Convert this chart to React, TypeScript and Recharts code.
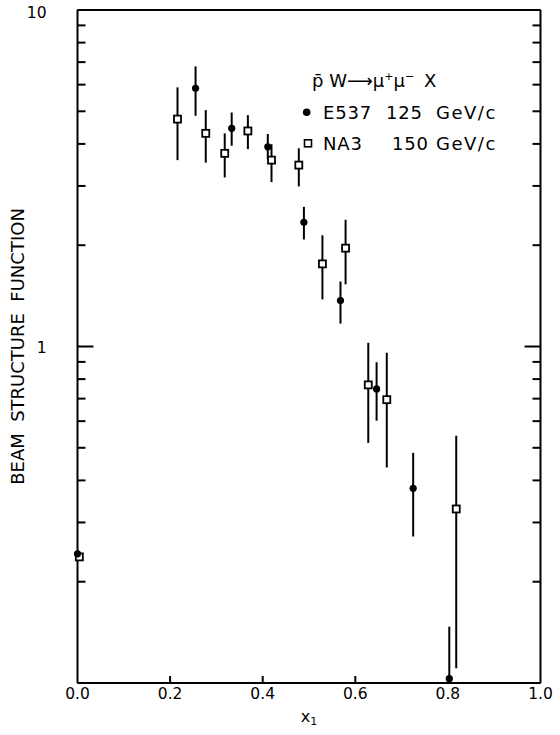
import React from 'react';
import { ScatterChart, Scatter, XAxis, YAxis, ErrorBar, Customized, Label } from 'recharts';

// E537 125 GeV/c (filled circles)
const e537X = [0.0, 0.255, 0.333, 0.411, 0.489, 0.568, 0.646, 0.725, 0.803];
const e537Y = [0.242, 5.85, 4.45, 3.92, 2.34, 1.37, 0.748, 0.379, 0.103];
const e537Lo = [0.237, 4.85, 3.95, 3.6, 2.08, 1.17, 0.602, 0.2725, 0.1];
const e537Hi = [0.247, 6.8, 4.96, 4.28, 2.6, 1.56, 0.898, 0.483, 0.147];

// NA3 150 GeV/c (open squares)
const na3X = [0.004, 0.216, 0.277, 0.318, 0.368, 0.419, 0.478, 0.529, 0.579, 0.628, 0.668, 0.818];
const na3Y = [0.237, 4.74, 4.3, 3.75, 4.37, 3.58, 3.46, 1.76, 1.96, 0.769, 0.695, 0.329];
const na3Lo = [0.233, 3.58, 3.52, 3.18, 3.86, 3.08, 2.99, 1.38, 1.53, 0.517, 0.437, 0.1106];
const na3Hi = [0.241, 5.89, 5.04, 4.3, 4.87, 3.99, 3.88, 2.14, 2.38, 1.026, 0.958, 0.543];

const xTicks = [0, 0.2, 0.4, 0.6, 0.8, 1.0];
const xTickLabels = ['0.0', '0.2', '0.4', '0.6', '0.8', '1.0'];
const yTicks = [0.1, 0.2, 0.3, 0.4, 0.5, 0.6, 0.7, 0.8, 0.9, 1, 2, 3, 4, 5, 6, 7, 8, 9, 10];
const yMajor = [1, 10];

const e537Data = e537X.map((x, i) => ({ x, y: e537Y[i], err: [e537Y[i] - e537Lo[i], e537Hi[i] - e537Y[i]] }));
const na3Data = na3X.map((x, i) => ({ x, y: na3Y[i], err: [na3Y[i] - na3Lo[i], na3Hi[i] - na3Y[i]] }));

const FONT = 'DejaVu Sans, sans-serif';

const FilledDot = (p: any) => <circle cx={p.cx} cy={p.cy} r={3.6} fill="#000" />;
const OpenSquare = (p: any) => (
  <rect x={p.cx - 3.5} y={p.cy - 3.5} width={7} height={7} fill="#fff" stroke="#000" strokeWidth={1.8} />
);

const isMajor = (v: number) => yMajor.some((m) => Math.abs(m - v) < 1e-9);

const LeftTick = (p: any) => {
  const v = p.payload.value;
  const len = isMajor(v) ? 16 : 8;
  return (
    <g>
      <line x1={p.x} y1={p.y} x2={p.x + len} y2={p.y} stroke="#000" strokeWidth={2} />
      {isMajor(v) ? (
        <text x={p.x - 31} y={p.y + (v > 5 ? 8 : 6)} textAnchor="end" fontSize={15.5} fontFamily={FONT} fill="#000">
          {String(v)}
        </text>
      ) : null}
    </g>
  );
};

const RightTick = (p: any) => {
  const v = p.payload.value;
  const len = isMajor(v) ? 16 : 8;
  return <line x1={p.x} y1={p.y} x2={p.x - len} y2={p.y} stroke="#000" strokeWidth={2} />;
};

const BottomTick = (p: any) => {
  const v = p.payload.value;
  const idx = xTicks.findIndex((t) => Math.abs(t - v) < 1e-9);
  const inner = v > 0.01 && v < 0.99;
  return (
    <g>
      {inner ? <line x1={p.x} y1={p.y} x2={p.x} y2={p.y - 7} stroke="#000" strokeWidth={2} /> : null}
      <text x={p.x} y={p.y + 16} textAnchor="middle" fontSize={15.5} fontFamily={FONT} fill="#000">
        {xTickLabels[idx]}
      </text>
    </g>
  );
};

const TopTick = (p: any) => {
  const v = p.payload.value;
  const inner = v > 0.01 && v < 0.99;
  return inner ? <line x1={p.x} y1={p.y} x2={p.x} y2={p.y + 8} stroke="#000" strokeWidth={2} /> : <g />;
};

const LegendBlock = () => (
  <g fontFamily={FONT} fill="#000">
    <text x={312} y={87} fontSize={18}>
      p̄ W⟶μ<tspan dy={-7} fontSize={11}>+</tspan>
      <tspan dy={7}>μ</tspan>
      <tspan dy={-7} fontSize={11}>−</tspan>
      <tspan x={424} dy={7}>X</tspan>
    </text>
    <circle cx={306.7} cy={112.3} r={3.8} fill="#000" />
    <text x={323} y={119} fontSize={18} letterSpacing={0.8}>E537</text>
    <text x={386} y={119} fontSize={18} letterSpacing={0.8}>125</text>
    <text x={436} y={119} fontSize={18} letterSpacing={1.5}>GeV/c</text>
    <rect x={304.5} y={139.8} width={7} height={7} fill="#fff" stroke="#000" strokeWidth={1.6} />
    <text x={323} y={150} fontSize={18} letterSpacing={0.8}>NA3</text>
    <text x={392} y={150} fontSize={18} letterSpacing={0.8}>150</text>
    <text x={436} y={150} fontSize={18} letterSpacing={1.5}>GeV/c</text>
  </g>
);

const YLabel = (p: any) => {
  const vb = p.viewBox || { x: 17.5, y: 10, width: 60, height: 673 };
  const cx = vb.x;
  const cy = vb.y + vb.height / 2;
  return (
    <text
      x={cx}
      y={cy}
      transform={`rotate(-90 ${cx} ${cy})`}
      textAnchor="middle"
      dominantBaseline="central"
      fontSize={18}
      fontFamily={FONT}
      fill="#000"
      style={{ whiteSpace: 'pre' }}
    >
      {'BEAM  STRUCTURE  FUNCTION'}
    </text>
  );
};

const XLabel = (p: any) => {
  const vb = p.viewBox || { x: 77.5, y: 683, width: 463, height: 40 };
  const cx = vb.x + vb.width / 2;
  return (
    <text x={cx} y={722} textAnchor="middle" fontSize={16} fontFamily={FONT} fill="#000">
      x<tspan dy={3} fontSize={11}>1</tspan>
    </text>
  );
};

export default function App() {
  return (
    <div style={{ position: 'absolute', left: 0, top: 0, width: 560, height: 735, background: '#fff' }}>
      <ScatterChart width={560} height={735} margin={{ top: 5, right: 14.5, bottom: 12, left: 17.5 }}>
        <XAxis
          xAxisId="b"
          dataKey="x"
          type="number"
          domain={[0, 1]}
          ticks={xTicks}
          interval={0}
          height={40}
          tickSize={0}
          tickMargin={0}
          tickLine={false}
          axisLine={{ stroke: '#000', strokeWidth: 2 }}
          tick={<BottomTick />}
        >
          <Label content={<XLabel />} />
        </XAxis>
        <XAxis
          xAxisId="t"
          orientation="top"
          type="number"
          domain={[0, 1]}
          ticks={xTicks}
          interval={0}
          allowDataOverflow
          height={5}
          tickSize={0}
          tickMargin={0}
          tickLine={false}
          axisLine={{ stroke: '#000', strokeWidth: 2 }}
          tick={<TopTick />}
        />
        <YAxis
          yAxisId="l"
          dataKey="y"
          type="number"
          scale="log"
          domain={[0.1, 10]}
          ticks={yTicks}
          interval={0}
          width={60}
          tickSize={0}
          tickMargin={0}
          tickLine={false}
          axisLine={{ stroke: '#000', strokeWidth: 2 }}
          tick={<LeftTick />}
        >
          <Label content={<YLabel />} />
        </YAxis>
        <YAxis
          yAxisId="r"
          orientation="right"
          type="number"
          scale="log"
          domain={[0.1, 10]}
          ticks={yTicks}
          interval={0}
          allowDataOverflow
          width={5}
          tickSize={0}
          tickMargin={0}
          tickLine={false}
          axisLine={{ stroke: '#000', strokeWidth: 2 }}
          tick={<RightTick />}
        />
        <Scatter xAxisId="b" yAxisId="l" name="NA3 150 GeV/c" data={na3Data} shape={OpenSquare} isAnimationActive={false}>
          <ErrorBar dataKey="err" direction="y" width={0} stroke="#000" strokeWidth={2} isAnimationActive={false} />
        </Scatter>
        <Scatter xAxisId="b" yAxisId="l" name="E537 125 GeV/c" data={e537Data} shape={FilledDot} isAnimationActive={false}>
          <ErrorBar dataKey="err" direction="y" width={0} stroke="#000" strokeWidth={2} isAnimationActive={false} />
        </Scatter>
        <Customized component={LegendBlock} />
      </ScatterChart>
    </div>
  );
}
